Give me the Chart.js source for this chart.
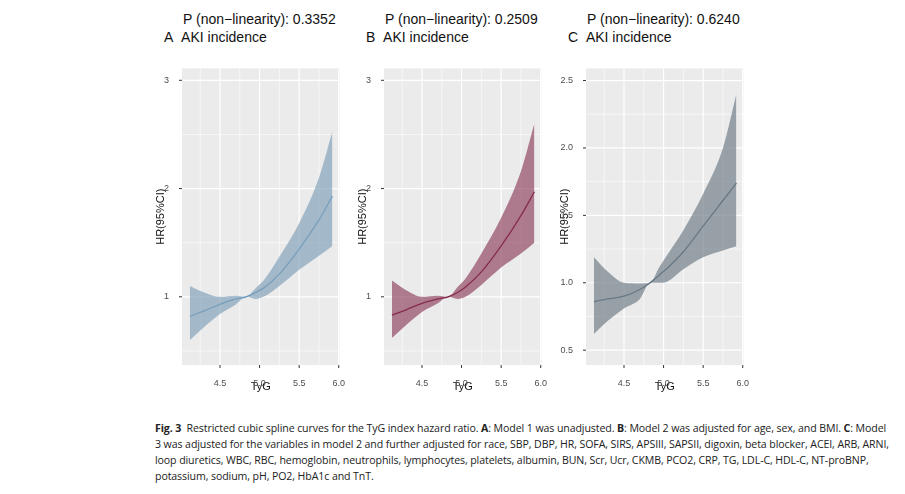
<!DOCTYPE html>
<html><head><meta charset="utf-8">
<script src="https://cdn.jsdelivr.net/npm/chart.js@4"></script>
<style>
body{margin:0;width:905px;height:494px;background:#fff;position:relative;font-family:"Liberation Sans",Arial,sans-serif;overflow:hidden}
.wrap{position:absolute;width:200px;height:340px;top:58px}
.t{position:absolute;font-size:14px;color:#111;line-height:15px;white-space:nowrap}
.cap{position:absolute;left:155px;top:420px;width:735px;font-family:"Open Sans",sans-serif;font-size:10.6px;line-height:16px;color:#222;letter-spacing:-0.1px}
</style></head><body>
<div class="t" style="left:183px;top:12px">P (non−linearity): 0.3352</div>
<div class="t" style="left:164px;top:30px">A&nbsp;&nbsp;AKI incidence</div>
<div class="t" style="left:385px;top:12px">P (non−linearity): 0.2509</div>
<div class="t" style="left:366px;top:30px">B&nbsp;&nbsp;AKI incidence</div>
<div class="t" style="left:587px;top:12px">P (non−linearity): 0.6240</div>
<div class="t" style="left:568px;top:30px">C&nbsp;&nbsp;AKI incidence</div>
<div class="wrap" style="left:150px"><canvas id="cA"></canvas></div>
<div class="wrap" style="left:352px"><canvas id="cB"></canvas></div>
<div class="wrap" style="left:554px"><canvas id="cC"></canvas></div>
<div class="cap"><b>Fig. 3</b>&nbsp; Restricted cubic spline curves for the TyG index hazard ratio. <b>A</b>: Model 1 was unadjusted. <b>B</b>: Model 2 was adjusted for age, sex, and BMI. <b>C</b>: Model 3 was adjusted for the variables in model 2 and further adjusted for race, SBP, DBP, HR, SOFA, SIRS, APSIII, SAPSII, digoxin, beta blocker, ACEI, ARB, ARNI, loop diuretics, WBC, RBC, hemoglobin, neutrophils, lymphocytes, platelets, albumin, BUN, Scr, Ucr, CKMB, PCO2, CRP, TG, LDL-C, HDL-C, NT-proBNP, potassium, sodium, pH, PO2, HbA1c and TnT.</div>
<script>
const tyg = [4.12,4.3,4.5,4.7,4.83,4.95,5.05,5.25,5.5,5.75,5.92];
const hrA = [0.82,0.87,0.93,0.98,1.0,1.04,1.08,1.21,1.44,1.71,1.93];
const upA = [1.1,1.04,1.0,1.01,1.0,1.08,1.15,1.37,1.68,2.1,2.53];
const loA = [0.6,0.72,0.84,0.93,1.0,0.98,1.0,1.1,1.25,1.38,1.47];
const hrB = [0.83,0.88,0.94,0.98,1.0,1.04,1.09,1.23,1.47,1.75,1.97];
const upB = [1.15,1.06,1.0,1.01,1.0,1.09,1.17,1.4,1.73,2.16,2.6];
const loB = [0.62,0.74,0.86,0.94,1.0,0.98,1.0,1.11,1.27,1.4,1.5];
const hrC = [0.86,0.88,0.9,0.95,1.0,1.06,1.11,1.23,1.42,1.61,1.74];
const upC = [1.19,1.08,1.0,0.995,1.0,1.12,1.21,1.39,1.66,2.0,2.4];
const loC = [0.62,0.72,0.81,0.88,1.0,1.0,1.01,1.1,1.19,1.24,1.27];
const xTicks = [4.5,5.0,5.5,6.0];
const yTicksAB = [1,2,3];
const yTicksC = [0.5,1.0,1.5,2.0,2.5];

function pts(ys){return tyg.map((x,i)=>({x:x,y:ys[i]}));}
function gridPlugin(xmaj,xmin,ymaj,ymin){return {id:'bggrid',beforeDatasetsDraw(c){
 const a=c.chartArea,g=c.ctx,sx=c.scales.x,sy=c.scales.y;g.save();
 g.fillStyle='#ebebeb';g.fillRect(a.left,a.top,a.width,a.height);
 g.strokeStyle='#fff';
 const line=(x1,y1,x2,y2,w)=>{g.lineWidth=w;g.beginPath();g.moveTo(x1,y1);g.lineTo(x2,y2);g.stroke();};
 xmin.forEach(v=>{const p=sx.getPixelForValue(v);if(p>=a.left&&p<=a.right)line(p,a.top,p,a.bottom,0.6);});
 ymin.forEach(v=>{const p=sy.getPixelForValue(v);if(p>=a.top&&p<=a.bottom)line(a.left,p,a.right,p,0.6);});
 xmaj.forEach(v=>{const p=sx.getPixelForValue(v);if(p>=a.left&&p<=a.right+1)line(p,a.top,p,a.bottom,1.2);});
 ymaj.forEach(v=>{const p=sy.getPixelForValue(v);line(a.left,p,a.right,p,1.2);});
 g.strokeStyle='#333';
 xmaj.forEach(v=>{const p=sx.getPixelForValue(v);line(p,a.bottom,p,a.bottom+3,1);});
 ymaj.forEach(v=>{const p=sy.getPixelForValue(v);line(a.left-3,p,a.left,p,1);});
 g.restore();}};}
function make(id,hr,up,lo,fillC,lineC,ymin,ymax,yt,minor,dec){
 const xmin=[4.25,4.75,5.25,5.75];
 const ymn=[];yt.forEach(t=>ymn.push(t+minor));ymn.unshift(yt[0]-minor);
 const ds={pointRadius:0,cubicInterpolationMode:'monotone'};
 new Chart(document.getElementById(id),{type:'line',
  data:{datasets:[
   Object.assign({data:pts(up),borderWidth:0,backgroundColor:fillC,fill:'+1'},ds),
   Object.assign({data:pts(lo),borderWidth:0,fill:false},ds),
   Object.assign({data:pts(hr),borderColor:lineC,borderWidth:1.3,fill:false},ds)]},
  options:{responsive:true,maintainAspectRatio:false,animation:false,
   layout:{padding:{top:2,right:3,left:0,bottom:0}},
   plugins:{legend:{display:false},tooltip:{enabled:false}},
   scales:{
    x:{type:'linear',min:4.02,max:6.01,
     afterBuildTicks(s){s.ticks=xTicks.map(v=>({value:v}));},
     afterFit(s){s.height=33;},
     border:{display:false},grid:{display:false},
     ticks:{maxRotation:0,autoSkip:false,padding:5,color:'#4d4d4d',font:{size:9},callback:v=>v.toFixed(1)},
     title:{display:true,text:'TyG',color:'#111',font:{size:11},padding:{top:0}}},
    y:{min:ymin,max:ymax,
     afterBuildTicks(s){s.ticks=yt.map(v=>({value:v}));},
     afterFit(s){s.width=32;},
     border:{display:false},grid:{display:false},
     ticks:{autoSkip:false,padding:5,color:'#4d4d4d',font:{size:9},callback:v=>v.toFixed(dec)},
     title:{display:true,text:'HR(95%CI)',color:'#111',font:{size:11},padding:{bottom:0}}}}},
  plugins:[gridPlugin(xTicks,xmin,yt,ymn)]});
}
make('cA',hrA,upA,loA,'rgba(133,162,185,0.7)','#5a95c0',0.37,3.11,yTicksAB,0.5,0);
make('cB',hrB,upB,loB,'rgba(140,60,90,0.65)','#7a1038',0.37,3.11,yTicksAB,0.5,0);
make('cC',hrC,upC,loC,'rgba(115,128,138,0.7)','#4c6575',0.39,2.59,yTicksC,0.25,1);
</script></body></html>
